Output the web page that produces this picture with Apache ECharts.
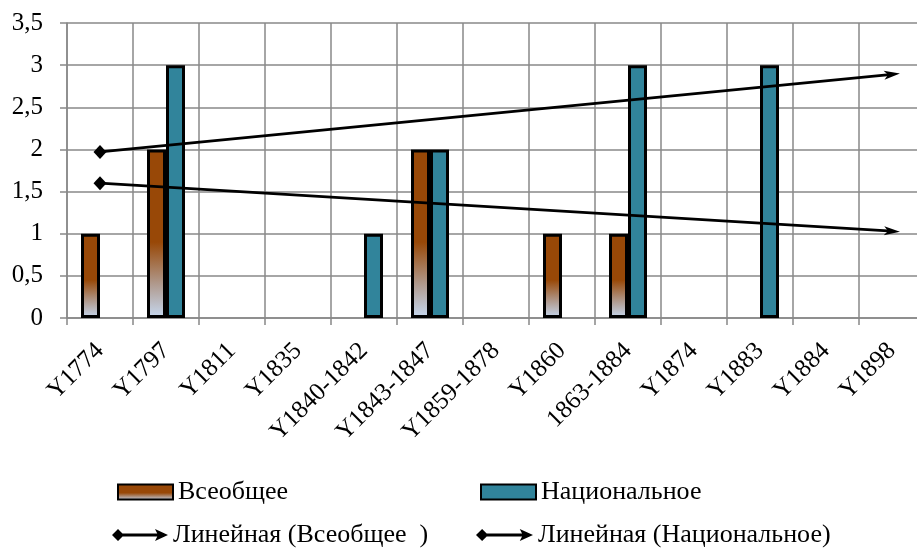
<!DOCTYPE html>
<html><head><meta charset="utf-8">
<script src="https://cdn.jsdelivr.net/npm/echarts@6/dist/echarts.min.js"></script>
<style>html,body{margin:0;padding:0;background:#fff;overflow:hidden}#c{width:925px;height:549px}</style>
</head><body><div id="c"></div>
<script>
const categories = ['Y1774','Y1797','Y1811','Y1835','Y1840-1842','Y1843-1847','Y1859-1878','Y1860','1863-1884','Y1874','Y1883','Y1884','Y1898'];
const vseobshchee = [1, 2, null, null, null, 2, null, 1, 1, null, null, null, null];
const natsionalnoe = [null, 3, null, null, 1, 2, null, null, 3, null, 3, null, null];
// trend line endpoints (first and last category)
const trendVseobshchee = [1.6, 1.03];
const trendNatsionalnoe = [1.97, 2.89];
const yTicks = ['0','0,5','1','1,5','2','2,5','3','3,5'];

const FONT = 'Liberation Serif';
const arrowPath = 'path://M0,0 L16,6 L0,12 L4,6 Z';
const legendTrendIcon = 'path://M0,6 L6,0 L12,6 L6,12 Z M6,4.6 L48,4.6 L48,7.4 L6,7.4 Z M43,0 L56,6 L43,12 L46,6 Z';

function trendData(ends, rot) {
  const d = categories.map(() => null);
  d[0] = { value: ends[0], symbol: 'diamond', symbolSize: [13, 14] };
  d[categories.length - 1] = { value: ends[1], symbol: arrowPath, symbolSize: [16, 12], symbolRotate: rot, symbolKeepAspect: true };
  return d;
}
const txt = (size) => ({ fontFamily: FONT, fontSize: size, color: '#000', fontWeight: 'normal' });
const legendBase = { orient: 'horizontal', padding: 0, itemGap: 0, textStyle: txt(26) };

const chart = echarts.init(document.getElementById('c'));
chart.setOption({
  animation: false,
  backgroundColor: '#fff',
  textStyle: txt(25),
  grid: { left: 67, top: 23, right: 0, bottom: 231, containLabel: false },
  xAxis: {
    type: 'category', data: categories, boundaryGap: true,
    axisLine: { lineStyle: { color: '#888', width: 1.5 } },
    axisTick: { show: true, length: 7, lineStyle: { color: '#888', width: 1.5 } },
    splitLine: { show: true, lineStyle: { color: '#888', width: 1.5 } },
    axisLabel: Object.assign({ rotate: 45, interval: 0, margin: 29 }, txt(25))
  },
  yAxis: {
    type: 'value', min: 0, max: 3.5, interval: 0.5,
    axisLine: { show: true, lineStyle: { color: '#888', width: 1.5 } },
    axisTick: { show: true, length: 7, lineStyle: { color: '#888', width: 1.5 } },
    splitLine: { show: true, lineStyle: { color: '#888', width: 1.5 } },
    axisLabel: Object.assign({ margin: 24, formatter: v => yTicks[Math.round(v * 2)] }, txt(25))
  },
  legend: [
    Object.assign({ data: ['Всеобщее'], left: 117, top: 479, icon: 'rect', itemWidth: 55, itemHeight: 15 }, legendBase),
    Object.assign({ data: ['Национальное'], left: 480, top: 479, icon: 'rect', itemWidth: 55, itemHeight: 15 }, legendBase),
    Object.assign({ data: ['Линейная (Всеобщее  )'], left: 112, top: 522, icon: legendTrendIcon, itemWidth: 56, itemHeight: 13,
      itemStyle: { color: '#000', borderWidth: 0 } }, legendBase),
    Object.assign({ data: ['Линейная (Национальное)'], left: 476, top: 522, icon: legendTrendIcon, itemWidth: 57, itemHeight: 13,
      itemStyle: { color: '#000', borderWidth: 0 } }, legendBase)
  ],
  series: [
    { name: 'Всеобщее', type: 'bar', data: vseobshchee, barWidth: 19, barGap: '0%',
      itemStyle: { borderColor: '#000', borderWidth: 3,
        color: { type: 'linear', x: 0, y: 0, x2: 0, y2: 1, colorStops: [
          { offset: 0, color: '#984807' }, { offset: 0.55, color: '#984807' },
          { offset: 0.8, color: '#b09a8e' }, { offset: 1, color: '#c6d9f1' } ] } } },
    { name: 'Национальное', type: 'bar', data: natsionalnoe, barWidth: 19, barGap: '0%',
      itemStyle: { color: '#31849b', borderColor: '#000', borderWidth: 3 } },
    { name: 'Линейная (Всеобщее  )', type: 'line', data: trendData(trendVseobshchee, -3.5), connectNulls: true,
      color: '#000', lineStyle: { color: '#000', width: 2.8 }, itemStyle: { color: '#000' }, z: 5 },
    { name: 'Линейная (Национальное)', type: 'line', data: trendData(trendNatsionalnoe, 5.7), connectNulls: true,
      color: '#000', lineStyle: { color: '#000', width: 2.8 }, itemStyle: { color: '#000' }, z: 5 }
  ]
});
</script></body></html>
